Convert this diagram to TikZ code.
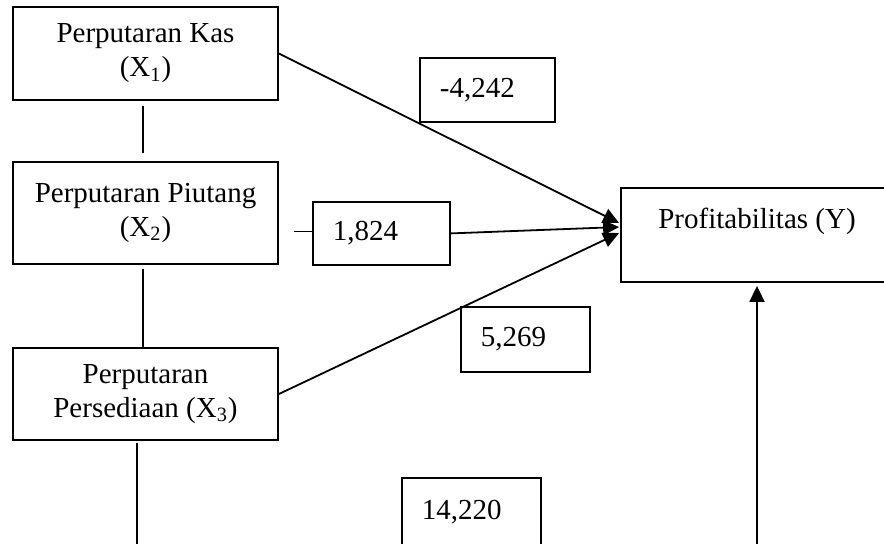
\documentclass[tikz,border=0pt]{standalone}
\usepackage{fontspec}
\setmainfont{Liberation Serif}
\usetikzlibrary{arrows.meta}
\begin{document}
\begin{tikzpicture}[x=0.5pt, y=-0.5pt, >={Triangle[length=8pt,width=7.5pt]}, line width=0.9pt, font=\fontsize{14.5}{17}\selectfont,
	var/.style={draw, align=center, minimum width=132.5pt, inner sep=0pt},
	val/.style={draw, anchor=north west, align=left, inner xsep=10pt, inner ysep=0pt}]
	\useasboundingbox (0,0) rectangle (884,543);
	% variabel bebas
	\node[var, minimum height=46.5pt] (X1) at (145.5,53.5) {Perputaran Kas\\(X\textsubscript{1})};
	\node[var, minimum height=51pt] (X2) at (145.5,213) {Perputaran Piutang\\(X\textsubscript{2})};
	\node[var, minimum height=46pt] (X3) at (145.5,394) {Perputaran\\Persediaan (X\textsubscript{3})};
	% variabel terikat
	\node[draw, minimum width=136pt, minimum height=47pt, align=center, inner sep=0pt] (Y) at (757,235) {Profitabilitas (Y)\\\mbox{}};
	% koefisien
	\node[val, text width=47.5pt, minimum height=32pt] (k1) at (419,57) {-4,242};
	\node[val, text width=48.5pt, minimum height=31.5pt] (k2) at (312,201) {1,824};
	\node[val, text width=44.5pt, minimum height=32.5pt] (k3) at (460,306) {5,269};
	\node[val, text width=49.5pt, minimum height=34pt] (k4) at (401,477) {14,220};
	\path (137,548) coordinate (b3)
		(757,548) coordinate (bY);
	% garis antar variabel
	\draw ([xshift=-1.25pt,yshift=-2.5pt]X1.south) -- ([xshift=-1.25pt,yshift=4pt]X2.north);
	\draw ([xshift=-1.25pt,yshift=-2pt]X2.south) -- ([xshift=-1.25pt]X3.north);
	\draw ([xshift=-4.25pt,yshift=-1pt]X3.south) -- (b3);
	\draw ([yshift=1pt]k2.west) -- ++(-18,0);
	% panah ke Y
	\foreach \a/\b in {X1.east/6pt, k2.east/4pt, X3.east/1pt}{
		\draw[->] (\a) -- ([xshift=-0.5pt,yshift=\b]Y.west);
	}
	\draw[->] (bY) -- ([yshift=-1.5pt]Y.south);
\end{tikzpicture}
\end{document}
